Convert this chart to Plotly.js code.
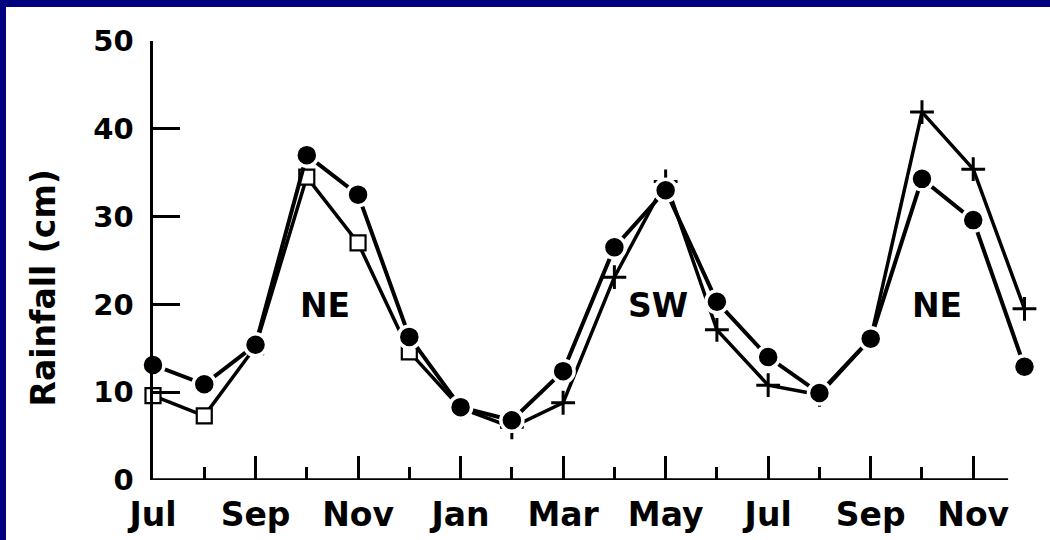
<!DOCTYPE html>
<html>
<head>
<meta charset="utf-8">
<script src="https://cdn.plot.ly/plotly-3.0.1.min.js"></script>
<style>
  html, body { margin: 0; padding: 0; background: #000080; width: 1050px; height: 540px; overflow: hidden; }
  #chart { position: absolute; left: 6px; top: 7px; width: 1044px; height: 533px; background: #fff; }
</style>
</head>
<body>
<div id="chart"></div>
<script>
// Month sequence (Jul of year 1 through Dec of year 2)
const months = ['Jul','Aug','Sep','Oct','Nov','Dec','Jan','Feb','Mar','Apr','May','Jun','Jul','Aug','Sep','Oct','Nov','Dec'];
// Filled circles: full 18-month record (cm)
const circleVals = [13.1, 10.9, 15.4, 37.0, 32.5, 16.3, 8.3, 6.8, 12.4, 26.5, 33.0, 20.3, 14.0, 9.9, 16.1, 34.3, 29.6, 12.9];
// Open squares: Jul - Jan
const squareStart = 0;
const squareVals = [9.6, 7.3, 15.2, 34.5, 27.0, 14.6, 8.2];
// Plus signs: Jan - Dec (second year)
const plusStart = 6;
const plusVals = [8.2, 6.0, 8.8, 23.1, 34.0, 17.1, 10.8, 9.7, 16.1, 41.9, 35.4, 19.5];
// Axis ticks
const yTicks = [0, 10, 20, 30, 40, 50];
const xMajor = [0, 2, 4, 6, 8, 10, 12, 14, 16];
const xMinor = [1, 3, 5, 7, 9, 11, 13, 15];
// Season labels
const seasonLabels = [
  {text: 'NE', x: 3.36, y: 19.9},
  {text: 'SW', x: 9.85, y: 19.9},
  {text: 'NE', x: 15.3, y: 19.9}
];
const yTitle = 'Rainfall (cm)';

const idx = (start, n) => Array.from({length: n}, (_, i) => start + i);
const FONT = 'DejaVu Sans, Arial, sans-serif';

const traces = [
  {
    x: idx(squareStart, squareVals.length), y: squareVals,
    type: 'scatter', mode: 'lines+markers', cliponaxis: false, showlegend: false,
    line: {color: '#000', width: 3.5},
    marker: {symbol: 'square', size: 15, color: '#fff', line: {color: '#000', width: 2.2}}
  },
  {
    x: idx(plusStart, plusVals.length), y: plusVals,
    type: 'scatter', mode: 'lines+markers', cliponaxis: false, showlegend: false,
    line: {color: '#000', width: 3.5},
    marker: {symbol: 'cross-thin-open', size: 17, color: '#000', line: {color: '#000', width: 3}}
  },
  {
    x: idx(0, circleVals.length), y: circleVals,
    type: 'scatter', mode: 'lines+markers', cliponaxis: false, showlegend: false,
    line: {color: '#000', width: 4},
    marker: {symbol: 'circle', size: 22, color: '#000', line: {color: '#fff', width: 3.5}}
  }
];

const layout = {
  width: 1044, height: 533,
  margin: {l: 147, r: 5, t: 34, b: 60},
  paper_bgcolor: '#fff', plot_bgcolor: '#fff',
  showlegend: false,
  xaxis: {
    range: [0, 17.4], showgrid: false, zeroline: false, showline: false,
    tickmode: 'array', tickvals: xMajor, ticktext: xMajor.map(i => months[i]),
    ticks: 'inside', ticklen: 24, tickwidth: 3, tickcolor: '#000',
    ticklabelstandoff: 12,
    tickfont: {family: FONT, size: 33, color: '#000', weight: 'bold'},
    minor: {tickmode: 'array', tickvals: xMinor, ticks: 'inside', ticklen: 13, tickwidth: 3, tickcolor: '#000'}
  },
  yaxis: {
    range: [0, 50], showgrid: false, zeroline: false,
    showline: true, linecolor: '#000', linewidth: 3.5,
    tickmode: 'array', tickvals: yTicks, ticktext: yTicks.map(String),
    ticks: 'inside', ticklen: 27, tickwidth: 3, tickcolor: '#000',
    ticklabelstandoff: 10,
    tickfont: {family: FONT, size: 29, color: '#000', weight: 'bold'}
  },
  shapes: [
    {type: 'line', xref: 'x', yref: 'y', x0: 0, x1: 16.68, y0: 0, y1: 0, line: {color: '#000', width: 3.5}}
  ],
  annotations: seasonLabels.map(s => ({
    text: s.text, x: s.x, y: s.y, xref: 'x', yref: 'y', showarrow: false,
    font: {family: FONT, size: 33, color: '#000', weight: 'bold'}
  })).concat([{
    text: yTitle, xref: 'paper', yref: 'paper', x: -0.123, y: 0.437,
    xanchor: 'center', yanchor: 'middle', textangle: -90, showarrow: false,
    font: {family: FONT, size: 33, color: '#000', weight: 'bold'}
  }])
};

Plotly.newPlot('chart', traces, layout, {displayModeBar: false, staticPlot: true});
</script>
</body>
</html>
